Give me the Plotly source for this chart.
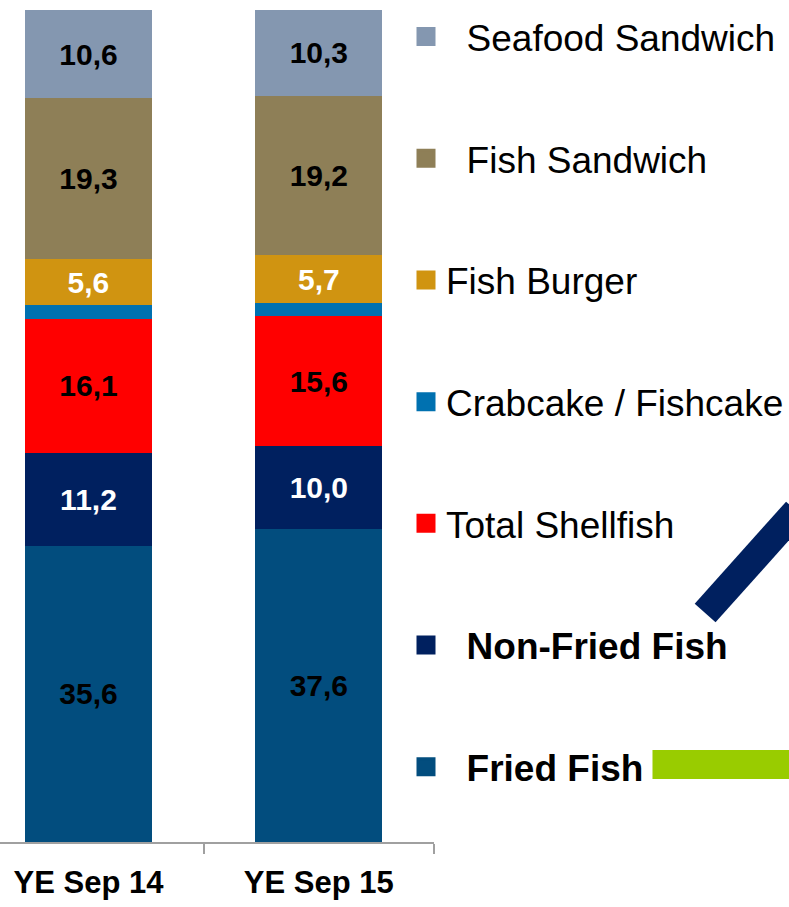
import plotly.graph_objects as go

# ---- data ----
categories = ["YE Sep 14", "YE Sep 15"]
fried_fish = [35.6, 37.6]
non_fried_fish = [11.2, 10.0]
total_shellfish = [16.1, 15.6]
crabcake_fishcake = [1.6, 1.6]
fish_burger = [5.6, 5.7]
fish_sandwich = [19.3, 19.2]
seafood_sandwich = [10.6, 10.3]

series = [
    # name, values, colour, label colour, show labels, legend name
    ("Fried Fish", fried_fish, "#024D7E", "#000000", True, "\u00a0\u00a0<b>Fried Fish</b>"),
    ("Non-Fried Fish", non_fried_fish, "#00205F", "#FFFFFF", True, "\u00a0\u00a0<b>Non-Fried Fish</b>"),
    ("Total Shellfish", total_shellfish, "#FF0000", "#000000", True, "Total Shellfish"),
    ("Crabcake / Fishcake", crabcake_fishcake, "#0071B0", "#000000", False, "Crabcake / Fishcake"),
    ("Fish Burger", fish_burger, "#D09411", "#FFFFFF", True, "Fish Burger"),
    ("Fish Sandwich", fish_sandwich, "#8E7F57", "#000000", True, "\u00a0\u00a0Fish Sandwich"),
    ("Seafood Sandwich", seafood_sandwich, "#8497B0", "#000000", True, "\u00a0\u00a0Seafood Sandwich"),
]

FONT = "Liberation Sans, Arial, sans-serif"
W, H = 789, 907
M_L, M_R, M_T, M_B = 0, 352, 10, 65
PW = W - M_L - M_R
PH = H - M_T - M_B


def px(x):
    return (x - M_L) / PW


def py(y):
    return (H - M_B - y) / PH


x_pos = list(range(len(categories)))

fig = go.Figure()
for name, vals, col, lcol, show, lname in series:
    labels = [f"{v:.1f}".replace(".", ",") if show else "" for v in vals]
    fig.add_trace(go.Bar(
        x=x_pos, y=vals, name=name, width=0.55,
        marker=dict(color=col, line=dict(width=0)),
        text=labels, textposition="inside", insidetextanchor="middle",
        textangle=0,
        textfont=dict(family=FONT, size=30, color=lcol, weight="bold"),
        showlegend=False, hoverinfo="skip",
    ))

# legend entries (top to bottom)
for i, (name, vals, col, lcol, show, lname) in enumerate(reversed(series)):
    fig.add_trace(go.Scatter(
        x=[None], y=[None], mode="markers", name=lname,
        legendgroup=f"g{i}",
        marker=dict(symbol="square", size=16, color=col, line=dict(color=col, width=3)),
    ))

fig.update_layout(
    width=W, height=H,
    margin=dict(l=M_L, r=M_R, t=M_T, b=M_B, pad=0),
    barmode="stack",
    paper_bgcolor="white", plot_bgcolor="white",
    font=dict(family=FONT, color="#000000"),
    showlegend=True,
    legend=dict(
        x=px(409), xanchor="left", y=py(6), yanchor="top",
        traceorder="grouped", tracegroupgap=70.6,
        maxheight=H,
        font=dict(family=FONT, size=37, color="#000000"),
        bgcolor="rgba(0,0,0,0)", borderwidth=0,
    ),
    xaxis=dict(
        range=[-0.384, 1.5], tickmode="array", tickvals=x_pos, ticktext=categories,
        ticks="", showgrid=False, zeroline=False,
        showline=True, linecolor="#A0A0A0", linewidth=1.5,
        tickfont=dict(family=FONT, size=31, color="#000000", weight="bold"),
        ticklabelstandoff=12,
        minor=dict(tickmode="array", tickvals=[0.5, 1.5], ticks="outside",
                   ticklen=10, tickwidth=1.5, tickcolor="#A0A0A0", showgrid=False),
        fixedrange=True,
    ),
    yaxis=dict(range=[0, 100], visible=False, fixedrange=True),
    uniformtext=dict(minsize=30, mode="show"),
    shapes=[
        dict(type="line", xref="paper", yref="paper",
             x0=px(710), y0=py(613), x1=px(802), y1=py(511),
             line=dict(color="#00205F", width=28)),
        dict(type="line", xref="paper", yref="paper",
             x0=px(657), y0=py(764.5), x1=px(800), y1=py(764.5),
             line=dict(color="#99CC00", width=29)),
    ],
)

fig.write_html(
    "out.html",
    config={"displayModeBar": False},
    post_script="document.body.style.margin='0';document.body.style.overflow='hidden';",
)
